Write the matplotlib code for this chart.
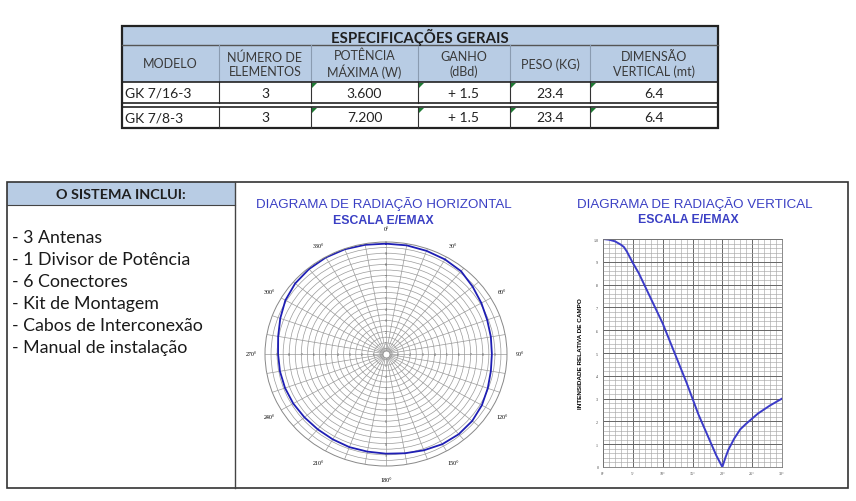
import matplotlib
matplotlib.use("Agg")
import matplotlib.pyplot as plt
from matplotlib.patches import Rectangle, Polygon
import numpy as np

# ---- data ----
table_title = "ESPECIFICAÇÕES GERAIS"
headers = ["MODELO", "NÚMERO DE\nELEMENTOS", "POTÊNCIA\nMÁXIMA (W)", "GANHO\n(dBd)", "PESO (KG)", "DIMENSÃO\nVERTICAL (mt)"]
row1 = ["GK 7/16-3", "3", "3.600", "+ 1.5", "23.4", "6.4"]
row2 = ["GK 7/8-3", "3", "7.200", "+ 1.5", "23.4", "6.4"]

items_title = "O SISTEMA INCLUI:"
items = ["- 3 Antenas", "- 1 Divisor de Potência", "- 6 Conectores",
         "- Kit de Montagem", "- Cabos de Interconexão", "- Manual de instalação"]

# horizontal pattern (azimuth deg, E/Emax)
h_ang = [0, 10, 20, 30, 40, 50, 60, 70, 80, 90, 100, 110, 120, 130, 140, 150, 160, 170,
         180, 190, 200, 210, 220, 230, 240, 250, 260, 270, 280, 290, 300, 310, 320, 330, 340, 350, 360]
h_val = [0.985, 0.985, 0.98, 0.975, 0.965, 0.935, 0.91, 0.89, 0.88, 0.875, 0.88, 0.895, 0.915, 0.93,
         0.935, 0.93, 0.915, 0.90, 0.89, 0.885, 0.885, 0.88, 0.878, 0.88, 0.885, 0.888, 0.89, 0.892,
         0.905, 0.93, 0.96, 0.98, 0.99, 0.995, 0.995, 0.99, 0.985]

# vertical pattern (elevation deg, E/Emax)
v_ang = [0, 1, 2, 3, 3.5, 4, 5, 6, 8, 10, 12, 14, 16, 18, 19, 20, 20.5, 21, 22, 23, 24, 26, 28, 30]
v_val = [1.0, 0.997, 0.99, 0.975, 0.965, 0.945, 0.895, 0.85, 0.74, 0.63, 0.50, 0.37, 0.23, 0.11,
         0.05, 0.0, 0.04, 0.075, 0.125, 0.165, 0.19, 0.235, 0.27, 0.30]
v_ticks = [0, 5, 10, 15, 20, 25, 30]

W, H = 856, 502
BLUE_HDR = "#b8cce4"
TITLE_BLUE = "#3a3fc4"
tfont = "Lato"

fig = plt.figure(figsize=(W / 100, H / 100), dpi=100)
bg = fig.add_axes([0, 0, 1, 1])
bg.set_xlim(0, W)
bg.set_ylim(H, 0)
bg.axis("off")

# ---- table ----
cols = [122, 219, 311, 418, 510, 590, 718]
bg.add_patch(Rectangle((122, 27), 596, 56, facecolor=BLUE_HDR, edgecolor="none"))
bg.text(420, 37, table_title, ha="center", va="center", fontsize=10.8, fontweight="bold",
        family=tfont, color="#1f1f1f")
bg.plot([122, 718], [46, 46], color="#555555", lw=1)
for i, h in enumerate(headers):
    cx = (cols[i] + cols[i + 1]) / 2
    bg.text(cx, 64.5, h, ha="center", va="center", fontsize=9.0, family=tfont,
            color="#3a3a3a", linespacing=1.2)
for i, row in enumerate([row1, row2]):
    yc = 93.5 if i == 0 else 118.5
    for j, v in enumerate(row):
        if j == 0:
            bg.text(125, yc, v, ha="left", va="center", fontsize=10, family=tfont, color="#222222")
        else:
            bg.text((cols[j] + cols[j + 1]) / 2, yc, v, ha="center", va="center",
                    fontsize=10, family=tfont, color="#222222")
    ytop = 83 if i == 0 else 108
    for x in cols[2:6]:
        bg.add_patch(Polygon([[x + 1, ytop + 1], [x + 6, ytop + 1], [x + 1, ytop + 6]],
                             closed=True, facecolor="#1e7b34", edgecolor="none"))
for x in cols[1:-1]:
    bg.plot([x, x], [46, 83], color="#8a9bb0", lw=0.8)
    bg.plot([x, x], [83, 104], color="#333333", lw=0.8)
    bg.plot([x, x], [108, 129], color="#333333", lw=0.8)
bg.plot([122, 718], [83, 83], color="#222222", lw=1.2)
bg.plot([122, 718], [104, 104], color="#222222", lw=1.2)
bg.plot([122, 718], [107.5, 107.5], color="#222222", lw=1.2)
bg.add_patch(Rectangle((122, 27), 596, 102, facecolor="none", edgecolor="#222222", lw=1.6))

# ---- lower frame ----
bg.add_patch(Rectangle((7, 183), 228, 23, facecolor=BLUE_HDR, edgecolor="none"))
bg.text(121, 195, items_title, ha="center", va="center", fontsize=10.4, fontweight="bold",
        family=tfont, color="#1f1f1f")
bg.plot([7, 235], [206, 206], color="#444444", lw=0.8)
bg.plot([235, 235], [183, 489], color="#444444", lw=1.0)
bg.add_patch(Rectangle((7, 183), 841, 306, facecolor="none", edgecolor="#333333", lw=1.2))
for k, it in enumerate(items):
    bg.text(12, 238 + 22 * k, it, ha="left", va="center", fontsize=12.8, family=tfont,
            color="#1a1a1a")

# titles
bg.text(384, 204, "DIAGRAMA DE RADIAÇÃO HORIZONTAL", ha="center", va="center",
        fontsize=9.6, family="Liberation Sans", color=TITLE_BLUE)
bg.text(383, 221, "ESCALA E/EMAX", ha="center", va="center", fontsize=8.8,
        fontweight="bold", family="Liberation Sans", color=TITLE_BLUE)
bg.text(695, 204, "DIAGRAMA DE RADIAÇÃO VERTICAL", ha="center", va="center",
        fontsize=9.6, family="Liberation Sans", color=TITLE_BLUE)
bg.text(688, 220, "ESCALA E/EMAX", ha="center", va="center", fontsize=8.8,
        fontweight="bold", family="Liberation Sans", color=TITLE_BLUE)

# ---- horizontal polar diagram ----
pax = fig.add_axes([265 / W, 1 - 467 / H, 242 / W, 224 / H], projection="polar")
pax.set_aspect("auto")
pax.set_theta_zero_location("N")
pax.set_theta_direction(-1)
pax.set_ylim(0, 1.0)
pax.set_rgrids(np.arange(0.05, 1.0, 0.05), labels=[])
pax.set_thetagrids(np.arange(0, 360, 10),
                   labels=[(f"{a}°" if a % 30 == 0 else "") for a in range(0, 360, 10)],
                   fontsize=4.3, family="Liberation Serif")
pax.tick_params(pad=-1)
pax.grid(color="#9a9a9a", lw=0.5)
pax.spines["polar"].set_color("#888888")
pax.spines["polar"].set_linewidth(0.7)
for a in [0, 90, 180, 270]:
    for n in range(1, 10):
        pax.text(np.deg2rad(a), n / 10, str(n), fontsize=2.6, ha="center", va="center",
                 color="#555555", family="Liberation Serif")
pax.plot(np.deg2rad(h_ang), h_val, color="#1e1eb4", lw=1.3)
pax.plot([0], [0], "o", ms=5, mfc="white", mec="#888888", mew=0.5)

# ---- vertical diagram ----
vax = fig.add_axes([603 / W, 1 - 468 / H, 179 / W, 228 / H])
vax.set_xlim(0, 30)
vax.set_ylim(0, 1.0)
vax.set_xticks(v_ticks)
vax.set_xticklabels([f"{t}°" for t in v_ticks], fontsize=3, family="Liberation Serif")
vax.set_yticks(np.arange(0, 1.01, 0.1))
vax.set_yticklabels(["0", ".1", ".2", ".3", ".4", ".5", ".6", ".7", ".8", ".9", "1.0"],
                    fontsize=3, family="Liberation Serif")
vax.set_xticks(np.arange(0, 31, 1), minor=True)
vax.set_yticks(np.arange(0, 1.0, 0.02), minor=True)
vax.tick_params(which="both", length=0, pad=3, colors="#444444")
vax.grid(which="major", color="#666666", lw=0.7)
vax.grid(which="minor", color="#a8a8a8", lw=0.45)
for s in vax.spines.values():
    s.set_color("#777777")
    s.set_linewidth(0.6)
vax.set_ylabel("INTENSIDADE RELATIVA DE CAMPO", fontsize=4.6, fontweight="bold",
               family="Liberation Sans", labelpad=8)
vax.plot(v_ang, v_val, color="#3b3bc8", lw=1.4)

fig.savefig("out.png", dpi=100)
